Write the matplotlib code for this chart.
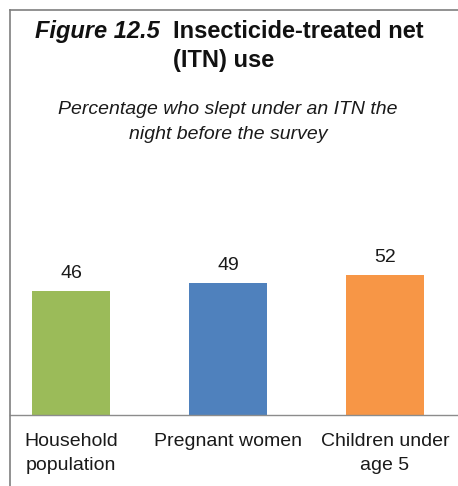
import matplotlib
matplotlib.use("Agg")
import matplotlib.pyplot as plt
from matplotlib.lines import Line2D

plt.rcParams['font.family'] = ['Liberation Sans', 'DejaVu Sans']

# Data
categories = ["Household\npopulation", "Pregnant women", "Children under\nage 5"]
values = [46, 49, 52]
bar_colors = ["#9BBB59", "#4F81BD", "#F79646"]

title_fig = "Figure 12.5"
title_main = "Insecticide-treated net"
title_line2 = "(ITN) use"
subtitle_lines = ["Percentage who slept under an ITN the", "night before the survey"]

W, H = 458, 486
fig = plt.figure(figsize=(W / 100, H / 100), dpi=100)
fig.patch.set_facecolor("white")


def fx(px):
    return px / W


def fy(py):
    return 1 - py / H


# Panel frame (top and left edges)
frame_col = "#7f7f7f"
fig.add_artist(Line2D([fx(9.5), 1], [fy(10.5), fy(10.5)], color=frame_col, lw=1.2,
                      transform=fig.transFigure))
fig.add_artist(Line2D([fx(9.5), fx(9.5)], [fy(10.5), 0], color=frame_col, lw=1.2,
                      transform=fig.transFigure))

# Plot area
base_px = 415
ymax = 72
px_per_unit = 2.70
top_px = base_px - ymax * px_per_unit
ax = fig.add_axes([fx(10), fy(base_px), 1 - fx(10), (base_px - top_px) / H])
x = list(range(len(values)))
ax.bar(x, values, width=0.5, color=bar_colors, edgecolor="none")
ax.set_ylim(0, ymax)
ax.set_xlim(-0.3885, 2.465)
for s in ("top", "right", "left"):
    ax.spines[s].set_visible(False)
ax.spines["bottom"].set_color("#8c8c8c")
ax.spines["bottom"].set_linewidth(1.0)
ax.set_yticks([])
ax.set_xticks(x)
ax.set_xticklabels(categories, fontsize=14, color="#1a1a1a", linespacing=1.55)
ax.tick_params(axis="x", length=0, pad=13)
ax.patch.set_alpha(0)

for xi, v in zip(x, values):
    ax.annotate(f"{v}", (xi, v), xytext=(0, 9), textcoords="offset points",
                ha="center", va="baseline", fontsize=14, color="#1a1a1a")

# Title: mixed bold-italic / bold on the first line
renderer = fig.canvas.get_renderer()
t1 = fig.text(0, fy(38), title_fig, fontsize=17, fontweight="bold", fontstyle="italic",
              va="baseline", ha="left", color="#111111")
t2 = fig.text(0, fy(38), title_main, fontsize=17, fontweight="bold",
              va="baseline", ha="left", color="#111111")
w1 = t1.get_window_extent(renderer).width
w2 = t2.get_window_extent(renderer).width
gap = 13
x0 = (W - (w1 + gap + w2)) / 2
t1.set_x(fx(x0))
t2.set_x(fx(x0 + w1 + gap))
fig.text(fx(224), fy(67), title_line2, fontsize=17, fontweight="bold",
         va="baseline", ha="center", color="#111111")

for line, base in zip(subtitle_lines, (114, 139)):
    fig.text(fx(228), fy(base), line, fontsize=14, fontstyle="italic",
             va="baseline", ha="center", color="#1a1a1a")

fig.savefig("out.png", dpi=100)
